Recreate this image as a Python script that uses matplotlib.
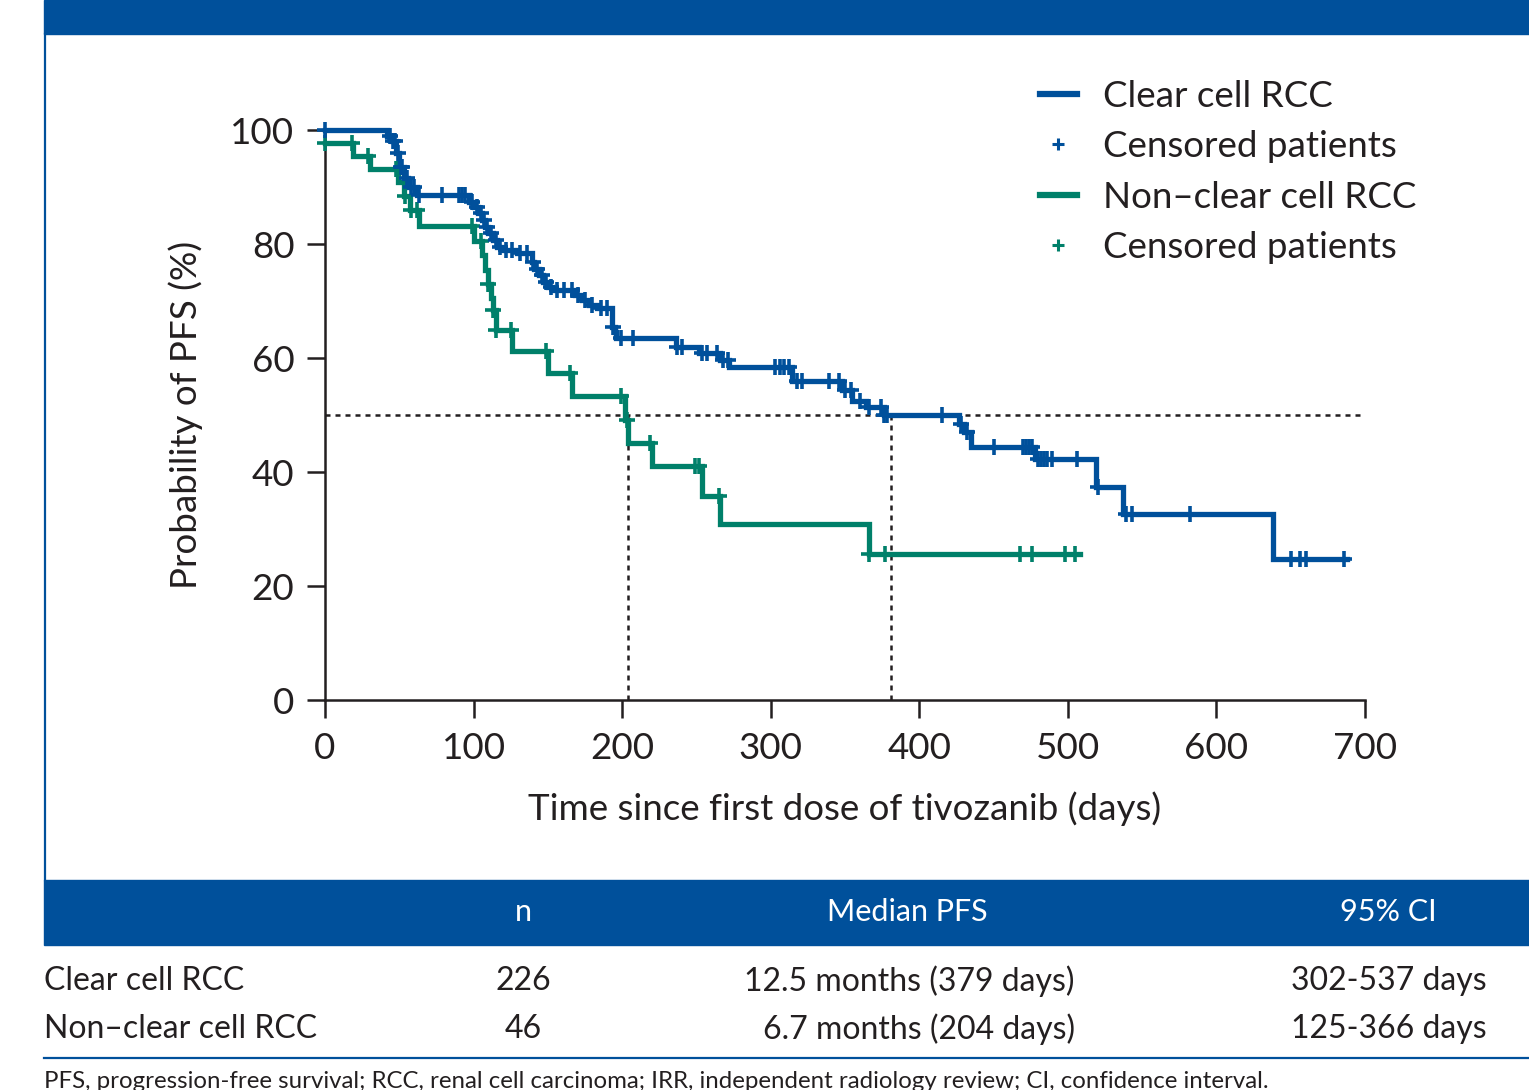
import matplotlib
matplotlib.use("Agg")
import matplotlib.pyplot as plt
import numpy as np
from matplotlib.lines import Line2D
from matplotlib.patches import Rectangle

plt.rcParams['font.family'] = ['Lato', 'DejaVu Sans']

# ---------------- data ----------------
blue_t = [0, 42, 45, 48, 50, 53, 56, 62, 97, 100, 103, 106, 108, 110, 113, 116, 120, 129,
          139, 141, 144, 147, 150, 153, 168, 173, 178, 183, 193, 195, 196, 236, 252, 266,
          272, 314, 348, 355, 364, 376, 427, 430, 435, 478, 519, 537, 638]
blue_s = [100, 99, 98, 96, 93.5, 91.5, 90, 88.6, 87.4, 86.5, 85.4, 84.2, 83, 81.9, 80.7, 79.5, 78.9, 78.4,
          76.9, 75.7, 74.6, 73.4, 72.5, 71.9, 71.0, 70.2, 69.3, 68.8, 65.5, 64.6, 63.5, 62.0, 60.8, 59.6,
          58.4, 56.0, 54.4, 52.5, 51.4, 50.0, 48.4, 47.0, 44.4, 42.3, 37.4, 32.6, 24.7]
blue_end = 688
blue_cens = [0, 44, 46, 47, 49, 51, 52, 55, 58, 60, 63, 79, 90, 92, 94, 99, 102, 105, 107, 109,
             112, 115, 118, 122, 126, 131, 136, 140, 143, 146, 149, 152, 156, 161, 166, 170, 175,
             180, 186, 190, 194, 199, 207, 237, 240, 254, 257, 264, 268, 271, 303, 306, 309, 312,
             318, 321, 339, 346, 350, 354, 360, 366, 374, 376, 378, 415, 428, 432, 450, 470, 472,
             474, 476, 480, 482, 484, 486, 489, 506, 520, 539, 543, 582, 650, 656, 660, 686]

green_t = [0, 19, 30, 49, 53, 57, 63, 100, 106, 108, 110, 112, 113, 115, 126, 150, 166, 202,
           204, 220, 254, 266, 366]
green_s = [97.8, 95.5, 93.2, 90.8, 88.4, 86.0, 83.1, 80.5, 78.0, 75.5, 73.0, 70.5, 68.5, 65.0,
           61.2, 57.4, 53.4, 49.2, 45.1, 41.1, 35.8, 30.9, 25.7]
green_end = 508
green_cens = [0, 18, 29, 48, 54, 58, 62, 99, 105, 110, 113, 115, 125, 149, 165, 199, 203, 219,
              249, 252, 265, 366, 377, 468, 476, 498, 505]

median_days = [381, 204]
median_level = 50

x_ticks = [0, 100, 200, 300, 400, 500, 600, 700]
y_ticks = [0, 20, 40, 60, 80, 100]

legend_labels = ["Clear cell RCC", "Censored patients", "Non\u2013clear cell RCC", "Censored patients"]

table_header = ["n", "Median PFS", "95% CI"]
table_rows = ["Clear cell RCC", "Non\u2013clear cell RCC"]
table_n = ["226", "46"]
table_median = ["12.5 months (379 days)", "6.7 months (204 days)"]
table_ci = ["302-537 days", "125-366 days"]
footnote = ("PFS, progression-free survival; RCC, renal cell carcinoma; IRR, independent radiology "
            "review; CI, confidence interval.")

# ---------------- style ----------------
BLUE = '#00509B'
GREEN = '#00806A'
TXT = '#231F20'
W, H = 1529, 1090

fig = plt.figure(figsize=(W / 100, H / 100), dpi=100)

def fx(px):
    return px / W

def fy(py):
    return 1 - py / H

# top banner and frame
fig.patches.append(Rectangle((fx(44), fy(34)), 1 - fx(44), fy(0) - fy(34),
                             transform=fig.transFigure, color=BLUE, zorder=0))
fig.lines.append(Line2D([fx(44.5), fx(44.5)], [fy(34), fy(880)], transform=fig.transFigure,
                        color=BLUE, lw=1.6))

ax = fig.add_axes([fx(325), fy(700), fx(1365) - fx(325), fy(130) - fy(700)])
ax.set_xlim(0, 700)
ax.set_ylim(0, 100)
for s in ['top', 'right']:
    ax.spines[s].set_visible(False)
for s in ['left', 'bottom']:
    ax.spines[s].set_linewidth(1.8)
    ax.spines[s].set_color(TXT)
ax.set_xticks(x_ticks)
ax.set_yticks(y_ticks)
ax.tick_params(axis='both', length=13, width=1.8, color=TXT, labelsize=26.5, labelcolor=TXT)
ax.tick_params(axis='x', pad=10)
ax.tick_params(axis='y', pad=9)
ax.set_xlabel("Time since first dose of tivozanib (days)", fontsize=26.5, color=TXT, labelpad=19)
ax.set_ylabel("Probability of PFS (%)", fontsize=26.5, color=TXT, labelpad=20)

# median reference lines
ax.plot([0, 700], [median_level, median_level], ls=(0, (2, 2)), color=TXT, lw=1.8, zorder=2)
for m in median_days:
    ax.plot([m, m], [0, median_level], ls=(0, (2, 2)), color=TXT, lw=1.8, zorder=2)

def km(ax, t, s, end, cens, color):
    tt = list(t) + [end]
    ss = list(s) + [s[-1]]
    ax.step(tt, ss, where='post', color=color, lw=3.8, clip_on=False, zorder=4,
            solid_joinstyle='miter')
    t_arr = np.array(t)
    cy = [s[np.searchsorted(t_arr, c, side='right') - 1] for c in cens]
    ax.plot(cens, cy, ls='none', marker='+', ms=12, mew=2.6, color=color, clip_on=False, zorder=5)

km(ax, green_t, green_s, green_end, green_cens, GREEN)
km(ax, blue_t, blue_s, blue_end, blue_cens, BLUE)

handles = [Line2D([], [], color=BLUE, lw=4.5),
           Line2D([], [], ls='none', marker='+', color=BLUE, ms=9, mew=2.2),
           Line2D([], [], color=GREEN, lw=4.5),
           Line2D([], [], ls='none', marker='+', color=GREEN, ms=9, mew=2.2)]
leg = fig.legend(handles, legend_labels, loc='upper left', bbox_to_anchor=(fx(1040), fy(80)),
                 frameon=False, fontsize=26.5, handlelength=1.0, handletextpad=0.7,
                 labelspacing=0.47, borderaxespad=0, borderpad=0)
for t in leg.get_texts():
    t.set_color(TXT)

# table
fig.patches.append(Rectangle((fx(44), fy(945)), 1 - fx(44), fy(880) - fy(945),
                             transform=fig.transFigure, color=BLUE, zorder=0))
hy = fy(912)
fig.text(fx(523), hy, table_header[0], ha='center', va='center', color='white', fontsize=22)
fig.text(fx(907), hy, table_header[1], ha='center', va='center', color='white', fontsize=22)
fig.text(fx(1388), hy, table_header[2], ha='center', va='center', color='white', fontsize=22)
for i, ry in enumerate([981, 1029]):
    fig.text(fx(44), fy(ry), table_rows[i], ha='left', va='center', color=TXT, fontsize=23)
    fig.text(fx(523), fy(ry), table_n[i], ha='center', va='center', color=TXT, fontsize=23)
    fig.text(fx(1075), fy(ry), table_median[i], ha='right', va='center', color=TXT, fontsize=23)
    fig.text(fx(1487), fy(ry), table_ci[i], ha='right', va='center', color=TXT, fontsize=23)
fig.lines.append(Line2D([fx(44), 1], [fy(1058), fy(1058)], transform=fig.transFigure,
                        color=BLUE, lw=1.6))
fig.text(fx(44), fy(1088), footnote, ha='left', va='baseline', color=TXT, fontsize=17.3)

fig.savefig("out.png", dpi=100)
